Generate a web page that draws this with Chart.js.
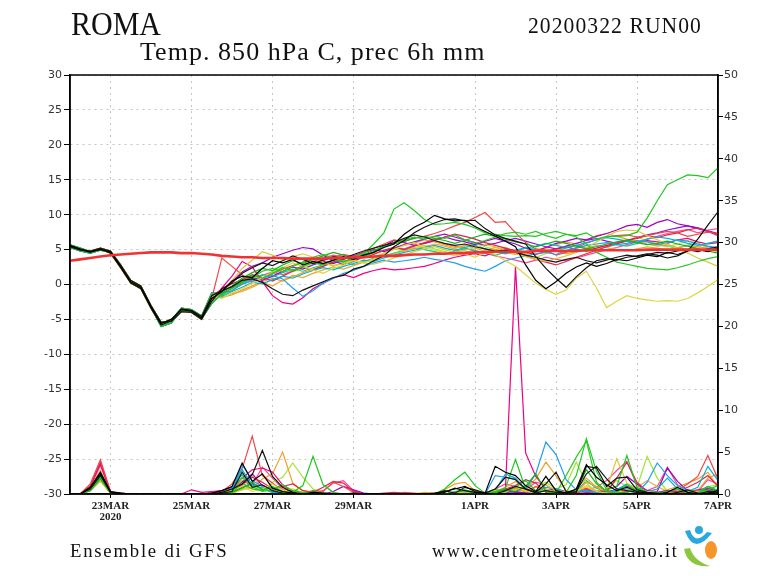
<!DOCTYPE html>
<html lang="it">
<head>
<meta charset="utf-8">
<title>ROMA - Temp. 850 hPa C, prec 6h mm</title>
<script src="https://cdn.jsdelivr.net/npm/chart.js@4.4.1/dist/chart.umd.min.js"></script>
<style>
html, body { margin:0; padding:0; background:#fff; }
#grafico { display:block; }
</style>
</head>
<body>
<canvas id="grafico" width="768" height="576"></canvas>
<script>
"use strict";

/* =========================
   DATE (6h steps from 22MAR 00)
========================= */

const dateTicks = [4, 12, 20, 28, 40, 48, 56, 64];
const dateLabels = [["23MAR", "2020"], "25MAR", "27MAR", "29MAR", "1APR", "3APR", "5APR", "7APR"];

const tempTicks = [-30, -25, -20, -15, -10, -5, 0, 5, 10, 15, 20, 25, 30];
const precTicks = [0, 5, 10, 15, 20, 25, 30, 35, 40, 45, 50];

/* =========================
   T850 CLIMATE (thick red)
========================= */

const tClima = [3.4,3.6,3.8,4.0,4.2,4.3,4.4,4.5,4.6,4.6, 4.6,4.5,4.5,4.4,4.3,4.1,4.0,3.9,3.9,3.8,
  3.8,3.8,3.7,3.7,3.7,3.7,3.8,3.8,3.9,3.9, 4.0,4.1,4.1,4.2,4.3,4.3,4.4,4.4,4.5,4.5,
  4.6,4.6,4.7,4.7,4.7,4.7,4.8,4.8,4.8,4.8, 4.8,4.9,4.9,4.9,4.9,4.9,4.9,5.0,5.0,5.0, 5.0,5.0,5.0,5.0,5.0];

/* =========================
   T850 MEMBERS
========================= */

const tBlack1 = [5.6,5.1,4.7,5.0,4.7,2.6,0.4,-0.4,-3.2,-5.6, -5.0,-3.6,-3.8,-4.8,-2.0,-1.0,0.5,1.2,1.0,2.3,
  3.4,3.1,3.6,2.8,3.3,3.0,3.5,4.0,3.6,4.2, 4.6,5.3,5.8,7.2,8.2,8.9,9.9,9.4,9.1,9.2,
  8.3,7.6,6.9,6.2,5.4,2.8,0.6,-0.6,0.4,1.6, 2.5,3.1,2.6,3.0,3.6,3.4,3.8,4.2,4.0,4.6, 4.3,4.8,5.0,4.7,5.2];
const tBlack2 = [5.4,5.0,4.6,5.1,4.5,2.4,0.2,-0.6,-3.4,-5.8, -5.2,-3.5,-3.7,-4.6,-1.6,-0.9,-0.3,0.6,0.8,0.3,
  -0.6,-1.4,-1.6,-0.8,-0.2,0.4,1.0,1.3,2.2,2.6, 3.4,4.1,5.4,6.3,7.4,8.2,8.8,9.3,9.4,9.1,
  9.2,8.0,7.1,6.6,6.2,5.8,4.0,2.3,0.9,-0.4, 1.1,2.4,3.4,3.7,3.5,3.9,4.1,4.4,4.2,3.8, 4.1,4.8,6.5,8.5,10.4];
const tBlack3 = [5.5,4.9,4.8,5.2,4.8,2.8,0.6,-0.2,-3.0,-5.4, -5.3,-3.9,-4.0,-5.0,-2.4,-0.6,0.2,1.6,2.4,3.1,
  2.7,3.4,4.1,3.6,3.0,3.5,4.0,3.7,4.3,4.8, 5.2,5.6,6.0,6.6,7.1,6.8,6.3,5.9,5.6,5.8,
  5.4,5.1,4.8,4.9,4.6,4.2,3.9,3.5,3.2,3.6, 3.9,3.4,3.1,3.5,3.9,4.2,4.0,4.3,4.6,4.5, 4.8,5.0,4.7,5.1,5.4];
const tGreenA = [5.3,4.8,4.5,4.9,4.6,2.5,0.5,-0.5,-3.3,-6.0, -5.5,-3.7,-3.9,-4.9,-2.7,-1.4,-0.5,0.2,1.3,0.9,
  1.6,2.4,2.0,2.6,3.1,2.8,3.5,3.2,3.9,4.4, 5.8,7.4,10.8,11.7,10.6,9.3,8.6,8.7,8.9,8.6,
  8.1,7.4,7.2,7.0,6.9,7.0,6.9,7.3,7.6,7.2, 7.0,7.4,6.5,6.9,6.9,7.0,7.5,9.5,12.0,14.3, 15.0,15.7,15.6,15.3,16.7];
const tGreenB = [5.7,5.2,4.7,5.1,4.6,2.7,0.3,-0.3,-3.1,-5.5, -5.1,-3.4,-3.6,-4.5,-1.2,-1.6,-0.4,0.4,1.0,1.9,
  2.3,1.8,2.6,3.2,3.9,4.3,3.8,3.3,3.6,4.1, 4.6,5.4,5.9,6.4,6.8,6.5,6.9,6.6,7.1,6.4,
  5.9,6.3,6.8,7.3,7.5,7.2,7.6,7.0,6.6,7.2, 6.8,5.8,4.6,3.9,3.2,2.9,2.6,2.3,2.2,2.1, 2.4,2.8,3.3,3.7,4.0];
const tGreenC = [5.6,5.1,4.7,5.0,4.7,2.6,0.4,-0.4,-3.2,-5.6, -5.0,-3.6,-3.8,-4.8,-2.0,-1.1,-0.2,0.9,1.7,2.3,
  2.0,2.8,3.4,3.0,3.6,4.1,4.6,4.2,3.8,4.3, 4.9,5.4,5.8,6.2,6.6,6.9,6.6,6.3,5.9,6.3,
  6.8,7.2,6.9,6.5,6.1,5.8,5.4,5.8,6.2,5.9, 5.5,5.1,5.4,5.8,6.1,6.4,6.0,5.7,5.9,6.2, 5.8,5.5,5.1,4.8,4.5];
const tYellowA = [5.4,5.0,4.6,5.1,4.5,2.4,0.2,-0.6,-3.4,-5.8, -5.2,-3.5,-3.7,-4.6,-1.6,-2.0,-1.2,-0.6,0.2,1.0,
  1.6,2.4,3.1,2.6,2.1,1.6,2.3,2.8,3.4,3.1, 3.6,4.4,5.0,5.6,6.0,5.3,4.9,4.6,4.1,4.4,
  3.9,4.6,4.3,3.4,2.6,1.4,0.2,-0.7,-1.4,-0.8, 0.9,1.9,-0.5,-3.3,-2.4,-1.6,-2.0,-2.2,-2.4,-2.3, -2.4,-2.0,-1.2,-0.3,0.7];
const tYellowB = [5.5,4.9,4.8,5.2,4.8,2.8,0.6,-0.2,-3.0,-5.4, -5.3,-3.9,-4.0,-5.0,-2.4,-1.0,0.6,2.3,3.5,4.7,
  4.2,3.6,4.0,4.4,3.9,3.2,2.6,3.0,3.5,3.1, 2.9,3.3,3.8,4.2,4.7,5.1,5.4,5.0,4.6,4.9,
  5.3,5.7,5.4,4.9,4.4,4.0,3.6,3.3,3.7,4.1, 4.6,5.3,6.1,6.9,7.6,7.8,7.7,7.0,6.4,5.8, 5.1,4.5,3.8,3.2,2.6];
const tBlueA = [5.3,4.8,4.5,4.9,4.6,2.5,0.5,-0.5,-3.3,-6.0, -5.5,-3.7,-3.9,-4.9,-2.7,-1.3,-0.9,0.1,0.5,0.9,
  1.3,0.8,-0.5,-1.7,-0.9,0.2,0.9,1.6,2.0,2.6, 3.1,3.5,3.2,3.4,3.6,3.9,3.6,3.4,3.1,2.6,
  2.2,1.9,2.6,3.4,3.8,4.1,4.4,4.6,4.3,4.9, 5.2,5.6,5.8,6.0,5.7,5.9,6.3,6.1,5.7,6.0, 6.4,6.2,5.8,5.5,5.3];
const tBlueB = [5.7,5.2,4.7,5.1,4.6,2.7,0.3,-0.3,-3.1,-5.5, -5.1,-3.4,-3.6,-4.5,-1.2,-1.7,-1.0,-0.4,0.3,0.1,
  0.7,1.2,0.9,1.5,2.0,2.4,2.1,2.6,3.0,3.5, 3.3,3.8,4.2,4.6,4.9,5.3,5.6,5.2,4.9,5.3,
  5.6,5.1,4.7,4.4,4.8,5.2,5.5,5.9,5.6,5.3, 5.6,6.0,6.4,6.7,6.5,6.2,6.0,6.5,6.8,6.6, 6.3,5.9,5.6,5.9,6.2];
const tRedA = [5.6,5.1,4.7,5.0,4.7,2.6,0.4,-0.4,-3.2,-5.6, -5.0,-3.6,-3.8,-4.8,-2.0,3.8,2.6,1.4,0.3,0.9,
  1.5,2.2,2.7,3.2,3.6,3.4,3.9,4.3,4.0,4.6, 5.2,5.8,6.4,6.1,6.7,6.9,7.3,7.8,8.4,8.9,
  9.6,10.3,8.9,9.0,7.4,6.0,5.1,4.9,4.2,4.6, 5.3,5.9,6.4,6.8,7.0,7.1,6.8,7.0,7.3,7.6, 7.4,6.9,7.2,7.5,7.3];
const tRedB = [5.4,5.0,4.6,5.1,4.5,2.4,0.2,-0.6,-3.4,-5.8, -5.2,-3.5,-3.7,-4.6,-1.6,-0.7,0.1,0.7,1.4,1.0,
  0.5,1.2,1.9,2.5,2.1,2.6,3.2,3.7,4.1,3.8, 4.3,4.9,5.3,5.0,5.5,6.0,6.4,6.8,7.2,6.9,
  6.5,6.0,5.6,5.2,4.7,4.1,3.6,3.2,2.8,3.3, 3.9,4.4,4.9,5.4,5.9,6.3,6.6,7.0,6.7,7.1, 7.4,7.8,8.1,7.6,7.0];
const tMagenta = [5.5,4.9,4.8,5.2,4.8,2.8,0.6,-0.2,-3.0,-5.4, -5.3,-3.9,-4.0,-5.0,-2.4,-0.5,1.2,3.3,2.5,0.4,
  -1.6,-2.6,-2.8,-1.9,-0.6,0.2,0.9,1.4,1.0,1.6, 2.0,2.3,2.1,2.2,2.4,2.6,3.0,3.5,3.9,4.2,
  4.4,4.1,4.7,5.1,4.9,4.6,4.3,4.7,5.1,5.4, 5.0,4.8,5.2,5.6,5.9,6.2,6.0,6.3,6.1,5.9, 6.4,6.6,6.1,5.8,6.0];
const tPurpleB = [5.3,4.8,4.5,4.9,4.6,2.5,0.5,-0.5,-3.3,-6.0, -5.5,-3.7,-3.9,-4.9,-2.7,-1.1,0.4,1.8,2.6,3.1,
  3.9,4.4,4.9,5.3,5.1,4.2,3.4,2.9,3.3,4.0, 4.7,5.5,6.3,6.0,5.6,5.9,6.3,6.8,6.4,6.1,
  5.7,6.2,6.6,6.2,5.8,5.2,4.8,5.3,5.9,6.2, 6.6,6.4,6.9,7.3,7.8,8.4,8.6,8.2,8.9,9.3, 8.7,8.4,8.1,7.7,7.3];
const tPurpleC = [5.7,5.2,4.7,5.1,4.6,2.7,0.3,-0.3,-3.1,-5.5, -5.1,-3.4,-3.6,-4.5,-1.2,-1.3,-0.5,0.4,1.0,0.6,
  1.2,1.9,2.5,2.2,2.8,3.3,3.0,3.6,4.1,4.6, 5.0,4.7,5.2,5.7,6.1,6.5,6.9,7.2,6.8,6.4,
  6.0,5.6,5.9,6.3,6.6,6.2,5.8,5.4,5.1,5.5, 5.9,6.3,6.6,6.2,5.9,6.3,6.7,7.1,7.4,7.8, 8.1,8.4,8.0,7.6,7.2];
const tOrangeA = [5.6,5.1,4.7,5.0,4.7,2.6,0.4,-0.4,-3.2,-5.6, -5.0,-3.6,-3.8,-4.8,-2.0,-1.8,-1.5,-0.8,-0.2,0.4,
  0.9,0.5,1.1,1.7,2.2,2.7,3.1,3.5,3.3,3.9, 4.4,4.8,5.2,5.6,5.9,6.4,6.1,5.7,5.3,5.6,
  5.2,4.8,5.0,4.6,4.3,4.5,4.9,5.3,5.7,6.1, 5.8,6.4,7.0,7.3,6.9,6.5,6.2,5.8,5.5,5.7, 5.3,5.0,5.4,5.2,4.9];
const tOrangeB = [5.4,5.0,4.6,5.1,4.5,2.4,0.2,-0.6,-3.4,-5.8, -5.2,-3.5,-3.7,-4.6,-1.6,-1.9,-1.3,-1.0,-0.4,0.3,
  -0.2,0.6,1.3,1.0,1.6,2.1,2.5,2.2,2.7,3.2, 3.6,4.0,4.4,4.8,5.1,5.4,5.8,5.5,5.1,4.8,
  4.5,4.9,5.3,5.0,4.6,4.4,4.7,5.1,4.8,4.4, 4.7,5.2,5.6,5.3,5.0,4.8,5.1,5.4,5.2,4.9, 5.3,5.6,5.4,5.9,6.2];
const tYellowGreen = [5.5,4.9,4.8,5.2,4.8,2.8,0.6,-0.2,-3.0,-5.4, -5.3,-3.9,-4.0,-5.0,-2.4,-1.5,-0.7,0.6,1.2,0.7,
  1.9,2.5,1.8,2.3,2.9,3.3,2.7,3.1,3.7,4.3, 3.9,4.5,5.1,4.8,5.3,5.6,5.1,4.7,5.2,5.5,
  5.9,5.4,5.0,5.3,4.8,4.3,3.9,4.4,4.9,5.4, 5.1,4.7,5.0,5.5,5.9,6.3,6.8,6.2,5.7,5.4, 5.8,6.3,5.9,5.2,4.6];
const tAqua = [5.3,4.8,4.5,4.9,4.6,2.5,0.5,-0.5,-3.3,-6.0, -5.5,-3.7,-3.9,-4.9,-2.7,-1.2,-0.6,0.2,0.8,1.4,
  1.1,1.7,2.2,1.9,2.4,2.8,3.4,3.2,2.8,3.3, 3.8,4.1,4.5,4.9,5.2,5.0,4.7,4.4,4.8,5.1,
  4.9,4.5,4.2,4.6,4.9,5.3,5.0,4.6,4.9,5.2, 5.6,5.3,5.0,5.4,5.7,5.5,5.9,6.2,5.8,5.5, 5.2,5.6,5.9,5.4,5.1];
const tPink = [5.7,5.2,4.7,5.1,4.6,2.7,0.3,-0.3,-3.1,-5.5, -5.1,-3.4,-3.6,-4.5,-1.2,-1.4,-0.8,0.0,0.6,1.3,
  1.8,1.4,2.0,2.7,3.3,3.8,4.2,3.9,3.5,3.9, 4.4,4.9,5.3,5.1,5.6,5.9,6.2,5.8,5.5,5.2,
  4.8,4.5,4.1,3.8,3.5,3.1,3.5,3.9,3.6,3.4, 3.8,4.2,4.6,5.0,5.3,5.7,6.1,6.5,6.9,7.3, 7.6,7.9,7.4,7.8,8.0];

/* =========================
   PRECIPITATION 6h MEMBERS
========================= */

const pBlack1 = [0,0,0.8,2.6,0.3,0.1,0,0,0,0, 0,0,0,0,0.1,0.4,0.9,3.7,1.5,2.4,
  0.7,0.3,0.1,0,0.2,0.1,0,0,0,0, 0,0,0,0,0,0,0.1,0.3,0.6,0.9,
  0.3,0.1,3.3,2.6,2.2,1.0,0.3,2.1,0.4,0.1, 0.6,3.5,2.0,1.1,0.4,0.8,0.3,0.1,0,0.2, 0.8,0.2,0,0.1,0.4];
const pBlack2 = [0,0,0.7,2.4,0.2,0.1,0,0,0,0, 0,0,0,0,0,0.2,0.6,1.2,2.3,5.2,
  2.1,0.8,0.2,0,0,0,0,0,0.1,0, 0,0,0,0,0,0,0,0.2,0.7,0.4,
  0.2,0.1,0.6,2.0,1.7,0.6,0.2,1.2,2.6,0.3, 0.2,3.3,3.1,0.9,1.9,2.0,0.5,0.2,0.1,0, 0.2,0.5,0.1,0,0.2];
const pBlack3 = [0,0,0.6,2.2,0.2,0,0,0,0,0, 0,0,0,0,0,0.1,0.3,2.6,0.8,1.1,
  0.4,0.1,0,0,0,0,0,0,0,0, 0,0,0,0,0,0,0,0.4,0.1,0.8,
  0.5,0.1,0,0.4,0.9,0.6,0.1,0.4,0.2,0.1, 0.3,2.4,3.3,1.8,0.6,0.4,0.2,0,0,0, 0,0,0,0.3,0.1];
const pGreenA = [0,0,0.6,2.3,0.2,0,0,0,0,0, 0,0,0,0,0,0,0.2,1.3,0.6,0.4,
  0.9,0.3,0.2,1.0,4.5,1.1,0.2,0,0,0, 0,0,0,0,0,0,0,0.6,1.7,2.6,
  1.0,0.1,0.3,0.7,4.1,0.6,0.2,0.4,0.1,0.2, 2.2,6.6,2.7,0.5,0.9,4.6,0.8,0.2,0.1,0.3, 0.6,0.2,0.1,0.9,0.4];
const pGreenB = [0,0,0.5,2.0,0.2,0,0,0,0,0, 0,0,0,0,0,0,0.3,2.0,0.9,0.3,
  0.5,1.1,0.4,0.2,0.1,0,0,0,0,0, 0,0,0,0,0,0,0,0,0.3,0.5,
  0.2,0,0.1,0.3,0.8,1.6,0.4,0.3,0.1,2.2, 4.4,6.3,1.4,0.3,0.2,1.1,0.4,0.1,0,0, 0.1,0,0.2,0.5,1.0];
const pGreenC = [0,0,0.4,1.8,0.1,0,0,0,0,0, 0,0,0,0,0,0,0.2,0.7,1.4,0.5,
  0.8,0.2,0.1,0,0.3,0.1,0,0,0,0, 0,0,0,0,0,0,0,0,0.2,0.4,
  0.1,0,0.2,0.5,0.3,0.9,2.4,0.3,0.1,0.2, 0.5,2.9,1.2,0.3,0.1,0.2,0.6,0.1,0,0, 0,0.1,0,0.2,0.6];
const pYellowA = [0,0,0.4,1.5,0.1,0,0,0,0,0, 0,0,0,0,0,0.1,0.4,0.9,0.3,0.6,
  1.2,0.4,0.6,0.2,0,0,0,0,0,0, 0,0,0,0,0,0,0,0,0.1,0.3,
  0.2,0.1,0.4,0.2,0.9,0.3,0.1,0.6,0.2,0.1, 0.4,0.8,0.3,0.1,0.2,0.5,0.3,0.2,0.1,0, 0,0.1,0.2,0.3,0.2];
const pYellowB = [0,0,0.5,1.7,0.1,0,0,0,0,0, 0,0,0,0,0,0,0.1,0.5,0.8,0.4,
  0.6,0.3,0.2,0,0,0,0,0,0,0, 0,0,0,0,0,0,0,0,0.2,0.1,
  0.2,0,0.1,0.3,0.6,0.4,0.3,1.1,0.4,0.2, 0.3,1.0,0.4,0.6,4.2,1.3,0.5,0.3,0.2,0.1, 0.2,0.4,0.3,0.2,0.1];
const pBlueA = [0,0,0.6,2.1,0.2,0,0,0,0,0, 0,0,0,0,0,0,0.5,3.5,1.6,0.9,
  0.3,0.1,0,0,0,0,0,0,0,0, 0,0,0,0,0,0,0,0,0.1,0.2,
  0.1,0,2.2,2.0,1.8,0.6,2.4,6.2,4.7,1.7, 0.5,0.3,0.2,0.1,0.4,0.6,0.2,1.4,3.7,2.2, 1.0,0.4,0.2,0.9,0.4];
const pBlueB = [0,0,0.5,1.9,0.2,0,0,0,0,0, 0,0,0,0,0,0.1,0.7,2.9,1.1,0.7,
  0.2,0,0,0,0,0,0,0,0,0, 0,0,0,0,0,0,0,0,0,0.1,
  0,0,0.4,2.4,1.9,0.5,0.3,0.8,0.6,0.2, 0.3,0.4,0.2,0.1,0.5,1.2,0.7,0.3,0.6,1.9, 0.6,0.3,0.8,3.3,1.6];
const pRedA = [0,0,1.2,4.1,0.3,0.1,0,0,0,0, 0,0,0,0,0,0.3,1.2,3.0,6.9,2.2,
  1.3,0.4,0.2,0.1,0.4,0.3,1.4,0.9,0.2,0, 0,0,0,0.2,0.1,0,0,0,0,0.1,
  0,0,0.2,0.5,0.7,0.3,0.9,0.4,0.1,0.2, 0.1,0.6,0.3,0.1,0.2,0.4,0.6,0.2,0.1,0.3, 0.5,1.2,2.1,4.6,1.8];
const pRedB = [0,0,1.0,3.8,0.3,0,0,0,0,0, 0,0,0,0,0.1,0.2,0.5,1.1,2.0,1.4,
  0.6,0.9,1.2,0.4,0.2,0.8,1.5,1.3,0.3,0, 0,0.1,0.2,0.1,0,0,0,0,0,0,
  0.1,0,0.1,0.6,1.0,1.7,1.3,0.2,0.1,0.2, 0.4,0.7,0.3,0.2,1.9,3.8,1.4,0.3,0.2,0.1, 0.3,0.8,1.4,2.2,0.9];
const pMagenta = [0,0,0.9,3.6,0.2,0,0,0,0,0, 0,0,0.5,0.2,0.3,0.4,0.8,1.9,2.9,3.1,
  2.6,1.1,0.3,0.1,0,0,0,0,0,0, 0,0,0,0,0,0,0,0,0.1,0.2,
  0.1,0.2,0.3,0.5,27.1,4.9,2.1,0.6,0.2,0.1, 0.3,0.2,0.1,0.2,0.3,0.4,0.2,0.1,0,0.2, 0.1,0.3,0.5,0.7,0.4];
const pPurpleB = [0,0,0.5,1.9,0.1,0,0,0,0,0, 0,0,0,0,0,0.1,0.3,1.4,2.4,1.0,
  0.6,0.3,0.1,0,0,0,0.3,0.9,0.5,0.1, 0,0,0,0,0,0,0,0,0,0.1,
  0,0,0.1,0.3,0.2,0.1,0.2,0.4,0.6,0.3, 0.2,0.4,0.3,0.6,0.9,2.1,1.2,0.4,0.3,3.1, 1.5,0.4,0.2,0.6,0.3];
const pPurpleC = [0,0,0.4,1.6,0.1,0,0,0,0,0, 0,0,0,0,0,0,0.2,0.8,1.2,0.6,
  0.3,0.1,0,0,0,0,0,0,0,0, 0,0,0,0,0,0,0,0,0,0.1,
  0,0,0.1,0.2,0.3,0.1,0.2,0.4,0.3,0.1, 0.2,0.5,0.4,0.2,0.6,0.9,0.5,0.3,0.2,0.4, 0.3,0.2,0.1,0.4,0.3];
const pOrangeA = [0,0,0.7,2.8,0.2,0,0,0,0,0, 0,0,0,0,0,0.2,0.4,1.0,0.6,1.8,
  2.4,5.0,1.3,0.4,0.2,0,0,0,0,0, 0,0,0,0,0,0,0,0.5,1.2,1.4,
  0.4,0.1,0.3,0.8,1.5,0.6,1.8,3.8,2.2,0.4, 0.2,1.4,0.9,0.4,0.3,0.6,0.3,0.2,0.1,0.5, 0.9,1.3,1.8,2.6,0.8];
const pOrangeB = [0,0,0.6,2.5,0.2,0,0,0,0,0, 0,0,0,0,0,0.1,0.5,1.6,2.1,0.8,
  0.3,0.9,0.4,0.1,0,0,0,0,0,0, 0,0,0,0,0,0.2,0.1,0,0,0.2,
  0.3,0.1,0.6,0.4,0.5,0.3,0.2,0.5,0.3,0.1, 0.6,1.9,0.8,0.3,0.2,0.3,0.8,1.6,0.9,0.3, 0.2,0.5,0.4,1.9,2.4];
const pYellowGreen = [0,0,0.5,1.7,0.1,0,0,0,0,0, 0,0,0,0,0,0,0.1,0.6,0.9,0.5,
  1.4,2.0,3.7,2.0,0.6,0.2,0,0,0,0, 0,0,0,0,0,0,0,0,0.2,0.4,
  0.3,0.1,0.2,0.3,0.6,0.4,0.8,1.4,0.6,1.1, 3.8,1.3,0.2,0.6,1.6,0.9,0.8,4.5,1.9,0.3, 0.2,0.1,0.4,0.9,1.1];
const pAqua = [0,0,0.5,2.0,0.2,0,0,0,0,0, 0,0,0,0,0.1,0.3,0.9,2.3,1.0,0.6,
  0.2,0.1,0,0,0,0,0,0,0,0, 0,0,0,0,0,0,0,0,0,0,
  0,0,0.2,0.4,0.3,0.1,0.2,0.5,0.4,0.1, 0.3,1.6,0.7,0.2,0.1,0.3,0.2,0.1,0,0.1, 0.2,0.1,0.3,0.6,0.2];
const pPink = [0,0,0.8,3.4,0.2,0,0,0,0,0, 0,0,0,0,0.2,0.4,0.7,1.5,1.1,3.2,
  1.9,0.6,0.3,0.1,0.1,0.4,1.3,1.6,0.4,0, 0,0,0,0,0,0,0,0,0.1,0.2,
  0.1,0.1,0.6,1.2,0.9,0.5,1.4,1.1,0.2,0.1, 0.2,0.5,0.8,1.6,2.8,3.9,1.0,0.4,0.9,3.2, 1.1,0.4,0.3,1.7,1.2];

const tempMembers = [tBlack1, tBlack2, tBlack3, tGreenA, tGreenB, tGreenC, tYellowA, tYellowB, tBlueA, tBlueB,
  tRedA, tRedB, tMagenta, tPurpleB, tPurpleC, tOrangeA, tOrangeB, tYellowGreen, tAqua, tPink];
const precMembers = [pBlack1, pBlack2, pBlack3, pGreenA, pGreenB, pGreenC, pYellowA, pYellowB, pBlueA, pBlueB,
  pRedA, pRedB, pMagenta, pPurpleB, pPurpleC, pOrangeA, pOrangeB, pYellowGreen, pAqua, pPink];
const memberColors = ["#000000", "#111111", "#1a1a1a", "#1ec81e", "#28c828", "#14b414", "#e0d43c", "#dcc83c", "#1ea0f0", "#00b4d2",
  "#f04646", "#dc2850", "#f00082", "#a000c8", "#8c14d2", "#f0a028", "#e6aa32", "#a0e632", "#00d28c", "#ff4696"];

/* =========================
   HELPERS
========================= */

function serie(valores, eixo, cor, largura, ordem){

    return {
        data: valores.map(function(v, i){ return { x: i, y: v }; }),
        yAxisID: eixo,
        borderColor: cor,
        backgroundColor: cor,
        borderWidth: largura,
        pointRadius: 0,
        tension: 0,
        fill: false,
        order: ordem
    };

}

// text stretched like the old plotter font
function texto(ctx, str, x, y, fonte, alinhamento, escalaX, escalaY, espaco){

    ctx.save();
    ctx.font = fonte;
    ctx.letterSpacing = espaco + "px";
    ctx.textAlign = alinhamento;
    ctx.textBaseline = "alphabetic";
    ctx.fillStyle = "#111";
    ctx.translate(x, y);
    ctx.scale(escalaX, escalaY);
    ctx.fillText(str, 0, 0);
    ctx.restore();

}

function desenharLogo(ctx){

    ctx.save();

    ctx.fillStyle = "#29a8e0";
    ctx.beginPath();
    ctx.arc(699, 530, 4, 0, Math.PI * 2);
    ctx.fill();
    ctx.beginPath();
    ctx.moveTo(685, 531);
    ctx.quadraticCurveTo(694, 556, 712, 533);
    ctx.lineTo(707, 532);
    ctx.quadraticCurveTo(695, 546, 690, 530);
    ctx.closePath();
    ctx.fill();

    ctx.fillStyle = "#f5962a";
    ctx.beginPath();
    ctx.ellipse(711, 550, 6, 9, 0, 0, Math.PI * 2);
    ctx.fill();

    ctx.fillStyle = "#8cc63e";
    ctx.beginPath();
    ctx.moveTo(684, 549);
    ctx.quadraticCurveTo(688, 568, 710, 566);
    ctx.quadraticCurveTo(694, 561, 690, 548);
    ctx.closePath();
    ctx.fill();

    ctx.restore();

}

/* =========================
   EXTRA DRAWING (frame, titles)
========================= */

const moldura = {

    id: "moldura",

    afterDraw: function(chart){

        const ctx = chart.ctx;
        const a = chart.chartArea;

        ctx.save();
        ctx.strokeStyle = "#000";
        ctx.lineWidth = 1.5;
        ctx.strokeRect(a.left, a.top, a.right - a.left, a.bottom - a.top);
        ctx.restore();

        texto(ctx, "ROMA", 71, 35, "30px 'Liberation Serif'", "left", 1, 1.1, 0);
        texto(ctx, "20200322 RUN00", 702, 33, "18px 'Liberation Serif'", "right", 1.2, 1.3, 0.9);
        texto(ctx, "Temp. 850 hPa C, prec 6h mm", 140, 60, "20px 'Liberation Serif'", "left", 1.3, 1.3, 0.8);
        texto(ctx, "Ensemble di GFS", 70, 557, "15px 'Liberation Serif'", "left", 1.25, 1.2, 1.4);
        texto(ctx, "www.centrometeoitaliano.it", 432, 557, "15px 'Liberation Serif'", "left", 1.2, 1.2, 1.5);

        desenharLogo(ctx);

    }

};

/* =========================
   CHART
========================= */

const datasets = [serie(tClima, "yT", "#f03232", 2.6, 0)];

tempMembers.forEach(function(m, i){
    datasets.push(serie(m, "yT", memberColors[i], 1.2, 1));
});

precMembers.forEach(function(m, i){
    datasets.push(serie(m, "yP", memberColors[i], 1.2, 2));
});

new Chart(document.getElementById("grafico"), {

    type: "line",

    data: { datasets: datasets },

    options: {

        responsive: false,
        animation: false,
        devicePixelRatio: 1,
        layout: { padding: { left: 30, right: 10, top: 75, bottom: 42 } },

        plugins: {
            legend: { display: false },
            tooltip: { enabled: false }
        },

        scales: {

            x: {
                type: "linear",
                min: 0,
                max: 64,
                afterBuildTicks: function(axis){ axis.ticks = dateTicks.map(function(v){ return { value: v }; }); },
                afterFit: function(axis){ axis.height = 40; },
                ticks: {
                    autoSkip: false,
                    maxRotation: 0,
                    padding: 2,
                    color: "#222",
                    font: { family: "Liberation Serif", size: 11, weight: "bold", lineHeight: 1.05 },
                    callback: function(v){ return dateLabels[dateTicks.indexOf(v)]; }
                },
                grid: { color: "#c4c4c4", lineWidth: 1, drawTicks: true, tickLength: 4, tickColor: "#000", tickBorderDash: [] },
                border: { display: true, color: "#000", width: 1.5, dash: [2, 4] }
            },

            yT: {
                type: "linear",
                position: "left",
                min: -30,
                max: 30,
                afterBuildTicks: function(axis){ axis.ticks = tempTicks.map(function(v){ return { value: v }; }); },
                afterFit: function(axis){ axis.width = 40; },
                ticks: { padding: 2, color: "#333", font: { family: "DejaVu Sans", size: 11 } },
                grid: { color: "#c4c4c4", lineWidth: 1, drawTicks: true, tickLength: 6, tickColor: "#000", tickBorderDash: [] },
                border: { display: true, color: "#000", width: 1.5, dash: [2, 4] }
            },

            yP: {
                type: "linear",
                position: "right",
                min: 0,
                max: 50,
                afterBuildTicks: function(axis){ axis.ticks = precTicks.map(function(v){ return { value: v }; }); },
                afterFit: function(axis){ axis.width = 40; },
                ticks: { padding: 1, color: "#333", font: { family: "DejaVu Sans", size: 11 } },
                grid: { drawOnChartArea: false, drawTicks: true, tickLength: 5, tickColor: "#000", tickBorderDash: [] },
                border: { display: true, color: "#000", width: 1.5 }
            }

        }

    },

    plugins: [moldura]

});
</script>
</body>
</html>
